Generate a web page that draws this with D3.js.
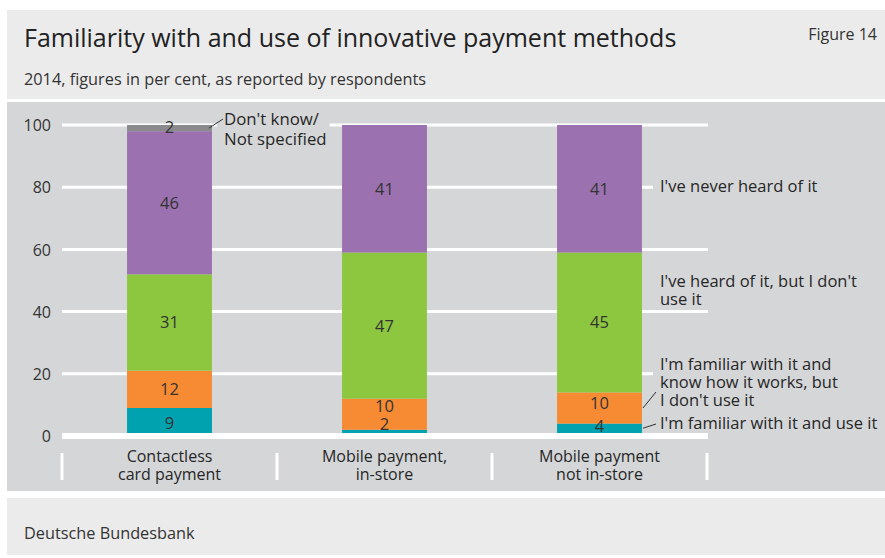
<!DOCTYPE html>
<html>
<head>
<meta charset="utf-8">
<script src="https://cdn.jsdelivr.net/npm/d3@7"></script>
<style>
  html, body { margin: 0; padding: 0; background: #ffffff; }
  svg { display: block; }
  text { font-family: "Open Sans", "Noto Sans", sans-serif; }
</style>
</head>
<body>
<div id="chart"></div>
<script>
// ---------------- data ----------------
const categories = ["Contactless card payment", "Mobile payment, in-store", "Mobile payment not in-store"];
const categoryLines = [["Contactless", "card payment"], ["Mobile payment,", "in-store"], ["Mobile payment", "not in-store"]];
const seriesNames = [
  "I'm familiar with it and use it",
  "I'm familiar with it and know how it works, but I don't use it",
  "I've heard of it, but I don't use it",
  "I've never heard of it",
  "Don't know/Not specified"
];
const useIt        = [9, 2, 4];
const knowNotUse   = [12, 10, 10];
const heardNotUse  = [31, 47, 45];
const neverHeard   = [46, 41, 41];
const dontKnow     = [2, 0, 0];
const yTicks = [0, 20, 40, 60, 80, 100];

const title = "Familiarity with and use of innovative payment methods";
const subtitle = "2014, figures in per cent, as reported by respondents";
const figureLabel = "Figure 14";
const source = "Deutsche Bundesbank";

// ---------------- styles ----------------
const colors = ["#00a2b0", "#f68b34", "#8dc63f", "#9b71b0", "#8a8a8c"];
const textColor = "#262626";

const W = 885, H = 558;
const svg = d3.select("#chart").append("svg").attr("width", W).attr("height", H);

// panels
svg.append("rect").attr("x", 7).attr("y", 10).attr("width", W - 7).attr("height", 89).attr("fill", "#ebebeb");
svg.append("rect").attr("x", 7).attr("y", 102).attr("width", W - 7).attr("height", 389).attr("fill", "#d5d6d8");
svg.append("rect").attr("x", 7).attr("y", 498).attr("width", W - 7).attr("height", 57).attr("fill", "#ebebeb");

svg.append("text").attr("x", 24).attr("y", 47).attr("font-size", 25).attr("fill", "#222").text(title);
svg.append("text").attr("x", 877).attr("y", 40).attr("text-anchor", "end").attr("font-size", 16).attr("fill", "#333").text(figureLabel);
svg.append("text").attr("x", 24).attr("y", 85).attr("font-size", 16.3).attr("fill", "#333").text(subtitle);
svg.append("text").attr("x", 24).attr("y", 539).attr("font-size", 16.3).attr("fill", "#333").text(source);

// scales
const x = d3.scaleBand().domain(categories).range([62, 707]).padding(0);
const barW = x.bandwidth() * 0.395;
const y = d3.scaleLinear().domain([0, 100]).range([436, 125]);

// gridlines
svg.append("g").selectAll("line").data(yTicks.filter(t => t > 0)).join("line")
  .attr("x1", 62).attr("x2", 708)
  .attr("y1", d => y(d)).attr("y2", d => y(d))
  .attr("stroke", "#ffffff").attr("stroke-width", 3);

// y axis labels
const yAxis = d3.axisLeft(y).tickValues(yTicks).tickSize(0).tickPadding(0).tickFormat(d3.format("d"));
const yg = svg.append("g").attr("transform", "translate(51,0)").call(yAxis);
yg.select(".domain").remove();
yg.selectAll("text").attr("font-size", 16).attr("fill", "#333")
  .attr("font-family", "'Open Sans', sans-serif").attr("dy", "0.35em");

// stacked data
const seriesValues = [useIt, knowNotUse, heardNotUse, neverHeard, dontKnow];
const table = categories.map((c, i) => {
  const row = { category: c };
  seriesNames.forEach((s, k) => row[s] = seriesValues[k][i]);
  return row;
});
const stack = d3.stack().keys(seriesNames)(table);

const barG = svg.append("g");
stack.forEach((layer, k) => {
  barG.selectAll(null).data(layer.filter(d => d[1] - d[0] > 0)).join("rect")
    .attr("x", d => x(d.data.category) + (x.bandwidth() - barW) / 2)
    .attr("width", barW)
    .attr("y", d => y(d[1]))
    .attr("height", d => y(d[0]) - y(d[1]))
    .attr("fill", colors[k]);
});

// baseline
svg.append("line").attr("x1", 62).attr("x2", 708).attr("y1", y(0)).attr("y2", y(0))
  .attr("stroke", "#ffffff").attr("stroke-width", 6);

// value labels (small nudges for thin segments)
const nudge = { "1-0": -9, "1-1": -8, "2-0": -4, "2-1": -5, "0-4": -1, "0-0": 1 };
stack.forEach((layer, k) => {
  layer.forEach((d, i) => {
    const v = d[1] - d[0];
    if (v <= 0) return;
    const cy = (y(d[0]) + y(d[1])) / 2 + (nudge[i + "-" + k] || 0);
    svg.append("text")
      .attr("x", x(d.data.category) + x.bandwidth() / 2)
      .attr("y", cy).attr("dy", "0.36em")
      .attr("text-anchor", "middle").attr("font-size", 16.5).attr("fill", "#333")
      .text(v);
  });
});

// category separators & labels
svg.append("g").selectAll("line").data([...categories.map(c => x(c)), x.range()[1]]).join("line")
  .attr("x1", d => d).attr("x2", d => d).attr("y1", 453).attr("y2", 480)
  .attr("stroke", "#ffffff").attr("stroke-width", 3);
categoryLines.forEach((lines, i) => {
  lines.forEach((ln, j) => {
    svg.append("text").attr("text-anchor", "middle").attr("font-size", 16).attr("fill", textColor)
      .attr("x", x(categories[i]) + x.bandwidth() / 2).attr("y", 462 + j * 18).text(ln);
  });
});

// series labels on the right with panel-coloured backing
const panel = "#d5d6d8";
function labelBlock(x0, yFirst, lines, lh, size) {
  const g = svg.append("g");
  const t = g.append("text").attr("font-size", size).attr("fill", textColor);
  lines.forEach((ln, j) => t.append("tspan").attr("x", x0).attr("y", yFirst + j * lh).text(ln));
  const bb = t.node().getBBox();
  g.insert("rect", "text").attr("x", bb.x - 7).attr("y", bb.y + 1).attr("width", bb.width + 10).attr("height", bb.height - 4).attr("fill", panel);
}
const lastCat = categories[2];
const barRight = x(lastCat) + (x.bandwidth() + barW) / 2;
const firstBarRight = x(categories[0]) + (x.bandwidth() + barW) / 2;

labelBlock(660, 192, ["I've never heard of it"], 18, 16.5);
labelBlock(660, 287, ["I've heard of it, but I don't", "use it"], 18, 16.5);
labelBlock(660, 370, ["I'm familiar with it and", "know how it works, but", "I don't use it"], 18, 16.5);
labelBlock(660, 429, ["I'm familiar with it and use it"], 18, 16.5);
labelBlock(224, 125, ["Don't know/", "Not specified"], 20, 16.8);

// leader lines
const leader = [
  [firstBarRight - 3, y(99), 223, 119],
  [barRight + 1, y(9), 656, 392],
  [barRight + 1, y(2.5), 656, 424]
];
svg.append("g").selectAll("line").data(leader).join("line")
  .attr("x1", d => d[0]).attr("y1", d => d[1]).attr("x2", d => d[2]).attr("y2", d => d[3])
  .attr("stroke", "#333").attr("stroke-width", 1);
</script>
</body>
</html>
